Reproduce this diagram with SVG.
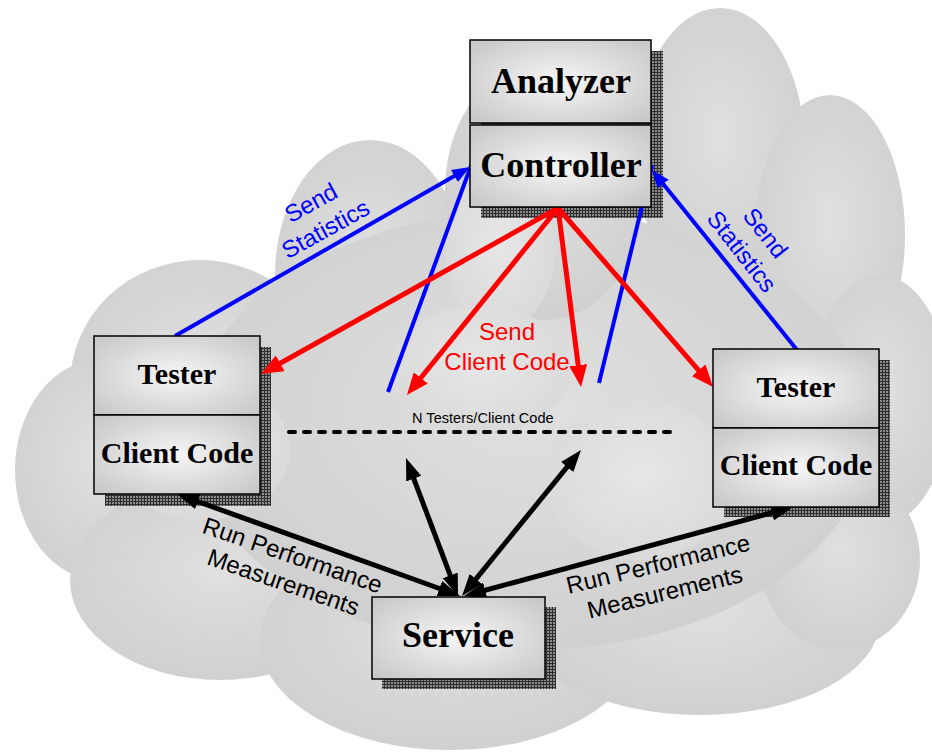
<svg xmlns="http://www.w3.org/2000/svg" width="932" height="755" viewBox="0 0 932 755">
<defs>
<radialGradient id="cg" cx="50%" cy="45%" r="55%"><stop offset="0%" stop-color="#e0e0e0"/><stop offset="100%" stop-color="#d0d0d0"/></radialGradient>
<radialGradient id="cl" cx="50%" cy="45%" r="55%"><stop offset="0%" stop-color="#e6e6e6"/><stop offset="100%" stop-color="#dadada"/></radialGradient>
<radialGradient id="bg" cx="50%" cy="50%" r="65%"><stop offset="0%" stop-color="#f6f6f6"/><stop offset="100%" stop-color="#c9c9c9"/></radialGradient>
<pattern id="hatch" width="3" height="3" patternUnits="userSpaceOnUse"><rect width="3" height="3" fill="#8c8c8c"/><path d="M0,0.5H3M0.5,0V3" stroke="#2e2e2e" stroke-width="1"/></pattern>
<marker id="hb" markerUnits="userSpaceOnUse" markerWidth="18" markerHeight="14" refX="3" refY="7" orient="auto-start-reverse"><path d="M0,0L18,7L0,14z" fill="#0000ff"/></marker>
<marker id="hr" markerUnits="userSpaceOnUse" markerWidth="22" markerHeight="18" refX="3" refY="9" orient="auto-start-reverse"><path d="M0,0L22,9L0,18z" fill="#ff0000"/></marker>
<marker id="hk" markerUnits="userSpaceOnUse" markerWidth="22" markerHeight="16" refX="3" refY="8" orient="auto-start-reverse"><path d="M0,0L22,8L0,16z" fill="#000"/></marker>
</defs>
<style>
.box{fill:url(#bg);stroke:#000;stroke-width:1.5}
.sh{fill:url(#hatch)}
.nt{font-family:"Liberation Serif",serif;font-weight:bold;text-anchor:middle;fill:#000}
.lb{font-family:"Liberation Sans",Arial,sans-serif;font-size:24px;text-anchor:middle}
.blue{stroke:#0000ff;stroke-width:4;fill:none}
.red{stroke:#ff0000;stroke-width:5;fill:none}
.blk{stroke:#000;stroke-width:5;fill:none}
</style>
<rect width="932" height="755" fill="#fff"/>
<g id="cloud">
<ellipse cx="720" cy="150" rx="85" ry="142" fill="url(#cg)"/>
<ellipse cx="830" cy="235" rx="75" ry="140" fill="url(#cg)"/>
<ellipse cx="880" cy="400" rx="70" ry="125" fill="url(#cg)"/>
<ellipse cx="370" cy="275" rx="95" ry="135" fill="url(#cg)"/>
<ellipse cx="200" cy="385" rx="130" ry="125" fill="url(#cg)"/>
<ellipse cx="100" cy="470" rx="85" ry="110" fill="url(#cg)"/>
<ellipse cx="220" cy="580" rx="150" ry="100" fill="url(#cg)"/>
<ellipse cx="450" cy="640" rx="190" ry="110" fill="url(#cg)"/>
<ellipse cx="700" cy="620" rx="180" ry="95" fill="url(#cg)"/>
<ellipse cx="840" cy="560" rx="80" ry="90" fill="url(#cg)"/>
<ellipse cx="530" cy="430" rx="340" ry="220" fill="url(#cg)"/>
<ellipse cx="545" cy="190" rx="100" ry="130" fill="url(#cg)"/>
<ellipse cx="500" cy="250" rx="55" ry="80" fill="url(#cl)"/>
<ellipse cx="480" cy="370" rx="90" ry="65" fill="url(#cl)"/>
<ellipse cx="640" cy="480" rx="95" ry="80" fill="url(#cl)"/>
<ellipse cx="200" cy="450" rx="90" ry="70" fill="url(#cl)"/>
</g>
<g id="shadows">
<rect class="sh" x="481" y="51" width="182" height="167"/>
<rect class="sh" x="105" y="347" width="166" height="159"/>
<rect class="sh" x="724" y="360" width="166" height="157"/>
<rect class="sh" x="382" y="607" width="174" height="82"/>
</g>
<g id="connectors">
<line class="blue" x1="175" y1="336" x2="457" y2="174.5" marker-end="url(#hb)"/>
<line class="blue" x1="388" y1="392" x2="472" y2="163"/>
<line class="blue" x1="599" y1="383" x2="652" y2="165"/>
<line class="blue" x1="797" y1="350" x2="661.4" y2="181.7" marker-end="url(#hb)"/>
<line class="red" x1="558" y1="208" x2="277.6" y2="364.7" marker-end="url(#hr)"/>
<line class="red" x1="558" y1="208" x2="418.9" y2="380.2" marker-end="url(#hr)"/>
<line class="red" x1="558" y1="208" x2="578.6" y2="368.2" marker-end="url(#hr)"/>
<line class="red" x1="558" y1="208" x2="700.6" y2="372.6" marker-end="url(#hr)"/>
<line class="blk" x1="194.9" y1="500.5" x2="442.2" y2="589.5" marker-start="url(#hk)" marker-end="url(#hk)"/>
<line class="blk" x1="412.7" y1="475.8" x2="451.3" y2="578.2" marker-start="url(#hk)" marker-end="url(#hk)"/>
<line class="blk" x1="569" y1="464.7" x2="474" y2="581.3" marker-start="url(#hk)" marker-end="url(#hk)"/>
<line class="blk" x1="482.3" y1="591" x2="774.7" y2="512" marker-start="url(#hk)" marker-end="url(#hk)"/>
<line x1="289" y1="432" x2="672" y2="432" stroke="#000" stroke-width="4" stroke-dasharray="6 9" stroke-linecap="round"/>
</g>
<g id="labels">
<g transform="translate(315,210) rotate(-29)" class="lb" fill="#0000ff"><text x="0" y="0">Send</text><text x="0" y="30">Statistics</text></g>
<g transform="translate(759,238) rotate(52)" class="lb" fill="#0000ff"><text x="0" y="0">Send</text><text x="0" y="30">Statistics</text></g>
<g class="lb" fill="#ff0000"><text x="507" y="340">Send</text><text x="507" y="370">Client Code</text></g>
<g transform="translate(290,563) rotate(19)" class="lb" fill="#000"><text x="0" y="0">Run Performance</text><text x="0" y="28.5">Measurements</text></g>
<g transform="translate(660,572) rotate(-13.5)" class="lb" fill="#000"><text x="0" y="0">Run Performance</text><text x="0" y="29">Measurements</text></g>
<text x="412" y="423" font-family="Liberation Sans,Arial,sans-serif" font-size="14.6" fill="#000">N Testers/Client Code</text>
</g>
<g id="analyzer-controller">
<rect class="box" x="470" y="40" width="181" height="83"/>
<rect class="box" x="470" y="125" width="181" height="82"/>
<text class="nt" x="561" y="93" font-size="36">Analyzer</text>
<text class="nt" x="561" y="177" font-size="36">Controller</text>
</g>
<g id="tester-left">
<rect class="box" x="94" y="336" width="166" height="79"/>
<rect class="box" x="94" y="415" width="166" height="79"/>
<text class="nt" x="177" y="384" font-size="30">Tester</text>
<text class="nt" x="177" y="463" font-size="30">Client Code</text>
</g>
<g id="tester-right">
<rect class="box" x="713" y="349" width="166" height="79"/>
<rect class="box" x="713" y="428" width="166" height="79"/>
<text class="nt" x="796" y="397" font-size="30">Tester</text>
<text class="nt" x="796" y="475" font-size="30">Client Code</text>
</g>
<g id="service">
<rect class="box" x="372" y="597" width="173" height="82"/>
<text class="nt" x="458" y="647" font-size="36">Service</text>
</g>
</svg>
